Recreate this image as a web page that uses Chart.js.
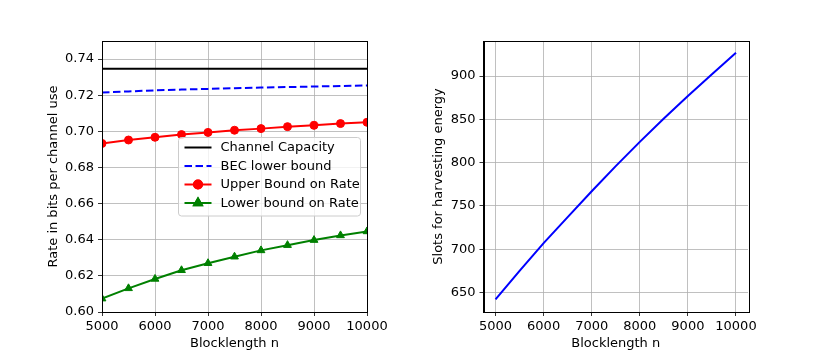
<!DOCTYPE html>
<html>
<head>
<meta charset="utf-8">
<script src="https://cdn.jsdelivr.net/npm/chart.js@4"></script>
<style>
html,body{margin:0;padding:0;background:#fff;}
#wrap{position:relative;width:830px;height:352px;}
canvas{position:absolute;top:0;}
</style>
</head>
<body>
<div id="wrap">
<canvas id="c1" width="415" height="352" style="left:0"></canvas>
<canvas id="c2" width="415" height="352" style="left:415px"></canvas>
</div>
<script>
// ---- data ----
const blocklength = [5000, 5500, 6000, 6500, 7000, 7500, 8000, 8500, 9000, 9500, 10000];
const channelCapacity = [0.7347, 0.7347, 0.7347, 0.7347, 0.7347, 0.7347, 0.7347, 0.7347, 0.7347, 0.7347, 0.7347];
const becLowerBound = [0.7215, 0.7221, 0.7227, 0.7231, 0.7235, 0.7239, 0.7242, 0.7245, 0.7248, 0.7251, 0.7254];
const upperBoundRate = [0.6933, 0.6952, 0.6967, 0.6982, 0.6994, 0.7006, 0.7015, 0.7026, 0.7033, 0.7043, 0.7050];
const lowerBoundRate = [0.6074, 0.6131, 0.6183, 0.6231, 0.6270, 0.6306, 0.6341, 0.6370, 0.6398, 0.6424, 0.6446];
const harvestSlots = [642, 675, 707, 737, 767, 796, 824, 851, 877, 902, 927];

const seriesLabels = ["Channel Capacity", "BEC lower bound", "Upper Bound on Rate", "Lower bound on Rate"];
const leftXTicks = [5000, 6000, 7000, 8000, 9000, 10000];
const leftYTicks = [0.60, 0.62, 0.64, 0.66, 0.68, 0.70, 0.72, 0.74];
const rightXTicks = [5000, 6000, 7000, 8000, 9000, 10000];
const rightYTicks = [650, 700, 750, 800, 850, 900];
const xTitle = "Blocklength n";
const leftYTitle = "Rate in bits per channel use";
const rightYTitle = "Slots for harvesting energy";

// ---- helpers ----
const FONT = {family: "'DejaVu Sans', sans-serif", size: 13};
const pts = arr => blocklength.map((x, i) => ({x: x, y: arr[i]}));
const setTicks = list => (scale => { scale.ticks = list.map(v => ({value: v})); });

const frame = {
  id: 'frame',
  afterDatasetsDraw(chart) {
    const a = chart.chartArea, ctx = chart.ctx;
    ctx.save();
    ctx.strokeStyle = '#000';
    ctx.lineWidth = 1;
    ctx.strokeRect(Math.round(a.left) + 0.5, Math.round(a.top) + 0.5,
                   Math.round(a.right - a.left), Math.round(a.bottom - a.top));
    ctx.restore();
  }
};

const legendBox = {
  id: 'legendBox',
  afterDraw(chart) {
    const ctx = chart.ctx;
    const a = chart.chartArea;
    const x0 = a.right - 188.5, y0 = a.top + 96.5, w = 182, h = 78.5;
    ctx.save();
    ctx.beginPath();
    if (ctx.roundRect) ctx.roundRect(x0, y0, w, h, 3); else ctx.rect(x0, y0, w, h);
    ctx.fillStyle = 'rgba(255,255,255,0.8)';
    ctx.fill();
    ctx.strokeStyle = '#cccccc';
    ctx.lineWidth = 1;
    ctx.stroke();
    ctx.font = "13px 'DejaVu Sans', sans-serif";
    ctx.textBaseline = 'middle';
    chart.data.datasets.forEach((ds, i) => {
      const cy = y0 + 10 + i * 18.5;
      const lx0 = x0 + 6, lx1 = x0 + 33;
      ctx.beginPath();
      ctx.setLineDash(ds.borderDash || []);
      ctx.strokeStyle = ds.borderColor;
      ctx.lineWidth = ds.borderWidth;
      ctx.moveTo(lx0, cy);
      ctx.lineTo(lx1, cy);
      ctx.stroke();
      ctx.setLineDash([]);
      if (ds.pointRadius > 0) {
        Chart.helpers.drawPoint(ctx, {pointStyle: ds.pointStyle, radius: ds.pointRadius, borderWidth: 1, rotation: 0},
          (lx0 + lx1) / 2, cy);
        ctx.fillStyle = ds.backgroundColor;
        ctx.strokeStyle = ds.borderColor;
        ctx.fill();
        ctx.stroke();
      }
      ctx.fillStyle = '#000';
      ctx.fillText(ds.label, x0 + 42, cy + 0.5);
    });
    ctx.restore();
  }
};

function axisX(min, max, ticks, sz) {
  return {
    type: 'linear', min: min, max: max,
    afterBuildTicks: setTicks(ticks),
    afterFit: s => { s.height = 40; },
    grid: {color: '#b0b0b0', lineWidth: 0.8, drawTicks: true, tickLength: 4, tickColor: '#000'},
    border: {display: true, color: '#000', width: 1},
    ticks: {color: '#000', font: FONT, padding: 3, maxRotation: 0, autoSkip: false,
            callback: v => String(v)},
    title: {display: true, text: xTitle, color: '#000', font: FONT, padding: {top: 0, bottom: 1}}
  };
}
function axisY(min, max, ticks, width, fmt, titleText, titlePad) {
  return {
    type: 'linear', min: min, max: max,
    afterBuildTicks: setTicks(ticks),
    afterFit: s => { s.width = width; },
    grid: {color: '#b0b0b0', lineWidth: 0.8, drawTicks: true, tickLength: 4, tickColor: '#000'},
    border: {display: true, color: '#000', width: 1},
    ticks: {color: '#000', font: FONT, padding: 4, autoSkip: false, callback: fmt},
    title: {display: true, text: titleText, color: '#000', font: FONT, padding: {top: titlePad, bottom: 0}}
  };
}

Chart.defaults.animation = false;

new Chart(document.getElementById('c1'), {
  type: 'line',
  data: {
    datasets: [
      {label: seriesLabels[0], data: pts(channelCapacity), borderColor: '#000000', backgroundColor: '#000000',
       borderWidth: 2, pointRadius: 0, tension: 0},
      {label: seriesLabels[1], data: pts(becLowerBound), borderColor: '#0000ff', backgroundColor: '#0000ff',
       borderWidth: 2, borderDash: [7.5, 3.5], pointRadius: 0, tension: 0},
      {label: seriesLabels[2], data: pts(upperBoundRate), borderColor: '#ff0000', backgroundColor: '#ff0000',
       borderWidth: 2, pointRadius: 4, pointStyle: 'circle', pointBorderWidth: 1, tension: 0},
      {label: seriesLabels[3], data: pts(lowerBoundRate), borderColor: '#008000', backgroundColor: '#008000',
       borderWidth: 2, pointRadius: 4.5, pointStyle: 'triangle', pointBorderWidth: 1, tension: 0}
    ]
  },
  options: {
    responsive: false,
    layout: {padding: {left: 0, right: 48, top: 41, bottom: 0}},
    plugins: {legend: {display: false}, tooltip: {enabled: false}},
    scales: {
      x: axisX(5000, 10000, leftXTicks),
      y: axisY(0.60, 0.75, leftYTicks, 102, v => Number(v).toFixed(2), leftYTitle, 46)
    }
  },
  plugins: [frame, legendBox]
});

new Chart(document.getElementById('c2'), {
  type: 'line',
  data: {
    datasets: [
      {label: rightYTitle, data: pts(harvestSlots), borderColor: '#0000ff', backgroundColor: '#0000ff',
       borderWidth: 2, pointRadius: 0, tension: 0}
    ]
  },
  options: {
    responsive: false,
    layout: {padding: {left: 0, right: 82, top: 41, bottom: 0}},
    plugins: {legend: {display: false}, tooltip: {enabled: false}},
    scales: {
      x: axisX(4750, 10250, rightXTicks),
      y: axisY(627.5, 940.5, rightYTicks, 68.5, v => String(v), rightYTitle, 16)
    }
  },
  plugins: [frame]
});
</script>
</body>
</html>
